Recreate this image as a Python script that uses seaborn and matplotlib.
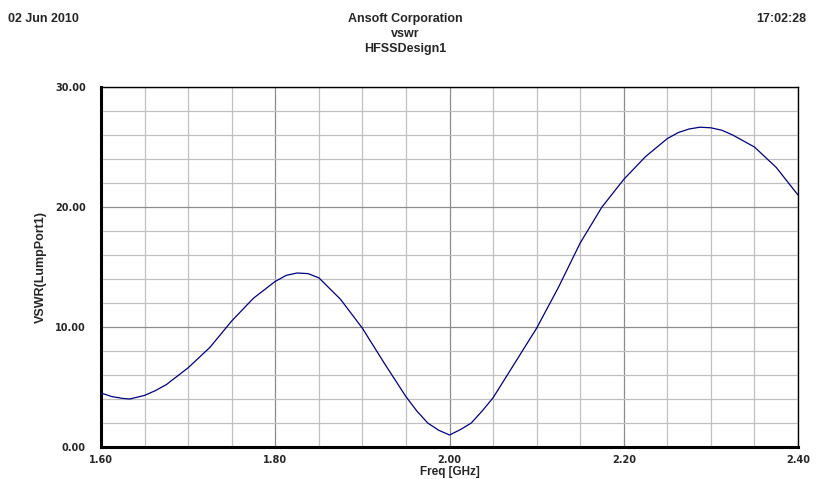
import matplotlib
matplotlib.use("Agg")
import matplotlib.pyplot as plt
from matplotlib.ticker import MultipleLocator, FormatStrFormatter
import seaborn as sns
import pandas as pd

# values
freq_ghz = [1.600, 1.6125, 1.625, 1.633, 1.650, 1.6625, 1.675, 1.700, 1.725, 1.750,
            1.775, 1.800, 1.8125, 1.825, 1.8375, 1.850, 1.875, 1.900, 1.925, 1.950,
            1.9625, 1.975, 1.9875, 2.000, 2.0125, 2.025, 2.0375, 2.050, 2.075, 2.100,
            2.125, 2.150, 2.175, 2.200, 2.225, 2.250, 2.2625, 2.275, 2.2875, 2.300,
            2.3125, 2.325, 2.350, 2.375, 2.400]
vswr = [4.5, 4.2, 4.05, 4.0, 4.3, 4.7, 5.2, 6.6, 8.3, 10.5,
        12.4, 13.8, 14.3, 14.5, 14.45, 14.1, 12.3, 9.9, 7.0, 4.2,
        3.0, 2.0, 1.4, 1.0, 1.45, 2.0, 3.0, 4.1, 7.0, 9.9,
        13.3, 17.0, 20.0, 22.3, 24.2, 25.7, 26.2, 26.5, 26.65, 26.6,
        26.4, 26.0, 25.0, 23.3, 21.0]

header_left = "02 Jun 2010"
header_right = "17:02:28"
title_lines = ["Ansoft Corporation", "vswr", "HFSSDesign1"]

df = pd.DataFrame({"Freq [GHz]": freq_ghz, "VSWR(LumpPort1)": vswr})

sns.set_style("white")
plt.rcParams['font.family'] = ['Liberation Sans', 'DejaVu Sans']

W, H = 818, 479
fig = plt.figure(figsize=(W / 100, H / 100), dpi=100)
ax = fig.add_axes([101 / W, 1 - 447 / H, (798 - 101) / W, (447 - 87) / H])

sns.lineplot(data=df, x="Freq [GHz]", y="VSWR(LumpPort1)", ax=ax,
             color="#000080", linewidth=0.9, zorder=3)

ax.set_xlim(1.6, 2.4)
ax.set_ylim(0, 30)
ax.xaxis.set_major_locator(MultipleLocator(0.2))
ax.xaxis.set_minor_locator(MultipleLocator(0.05))
ax.yaxis.set_major_locator(MultipleLocator(10))
ax.yaxis.set_minor_locator(MultipleLocator(2))
ax.xaxis.set_major_formatter(FormatStrFormatter("%.2f"))
ax.yaxis.set_major_formatter(FormatStrFormatter("%.2f"))

ax.grid(which="minor", color="#c0c0c0", linewidth=0.9)
ax.grid(which="major", color="#8c8c8c", linewidth=0.9)
ax.set_axisbelow(True)

ax.tick_params(axis="y", which="major", direction="out", length=10, width=1,
               pad=1, labelsize=7)
ax.tick_params(axis="y", which="minor", direction="out", length=3, width=1)
ax.tick_params(axis="x", which="major", direction="out", length=4, width=1,
               pad=2, labelsize=7)
ax.tick_params(axis="x", which="minor", direction="out", length=4, width=1)
for lab in ax.get_xticklabels() + ax.get_yticklabels():
    lab.set_fontfamily("DejaVu Sans")
    lab.set_fontweight("bold")

for side in ["top", "right"]:
    ax.spines[side].set_linewidth(1)
    ax.spines[side].set_color("black")
for side in ["left", "bottom"]:
    ax.spines[side].set_linewidth(2.2)
    ax.spines[side].set_color("black")

ax.set_xlabel("Freq [GHz]", fontsize=8.5, fontweight="bold", va="center")
ax.xaxis.set_label_coords(0.5, -(472 - 447) / 360)
ax.set_ylabel("VSWR(LumpPort1)", fontsize=9, fontweight="bold", labelpad=6)

fig.text(8 / W, 1 - 19 / H, header_left, ha="left", va="center",
         fontsize=9, fontweight="bold")
fig.text(806 / W, 1 - 19 / H, header_right, ha="right", va="center",
         fontsize=9, fontweight="bold")
for txt, ypix in zip(title_lines, [19, 34, 49]):
    fig.text(405 / W, 1 - ypix / H, txt, ha="center", va="center",
             fontsize=9, fontweight="bold")

fig.savefig("out.png", dpi=100)
